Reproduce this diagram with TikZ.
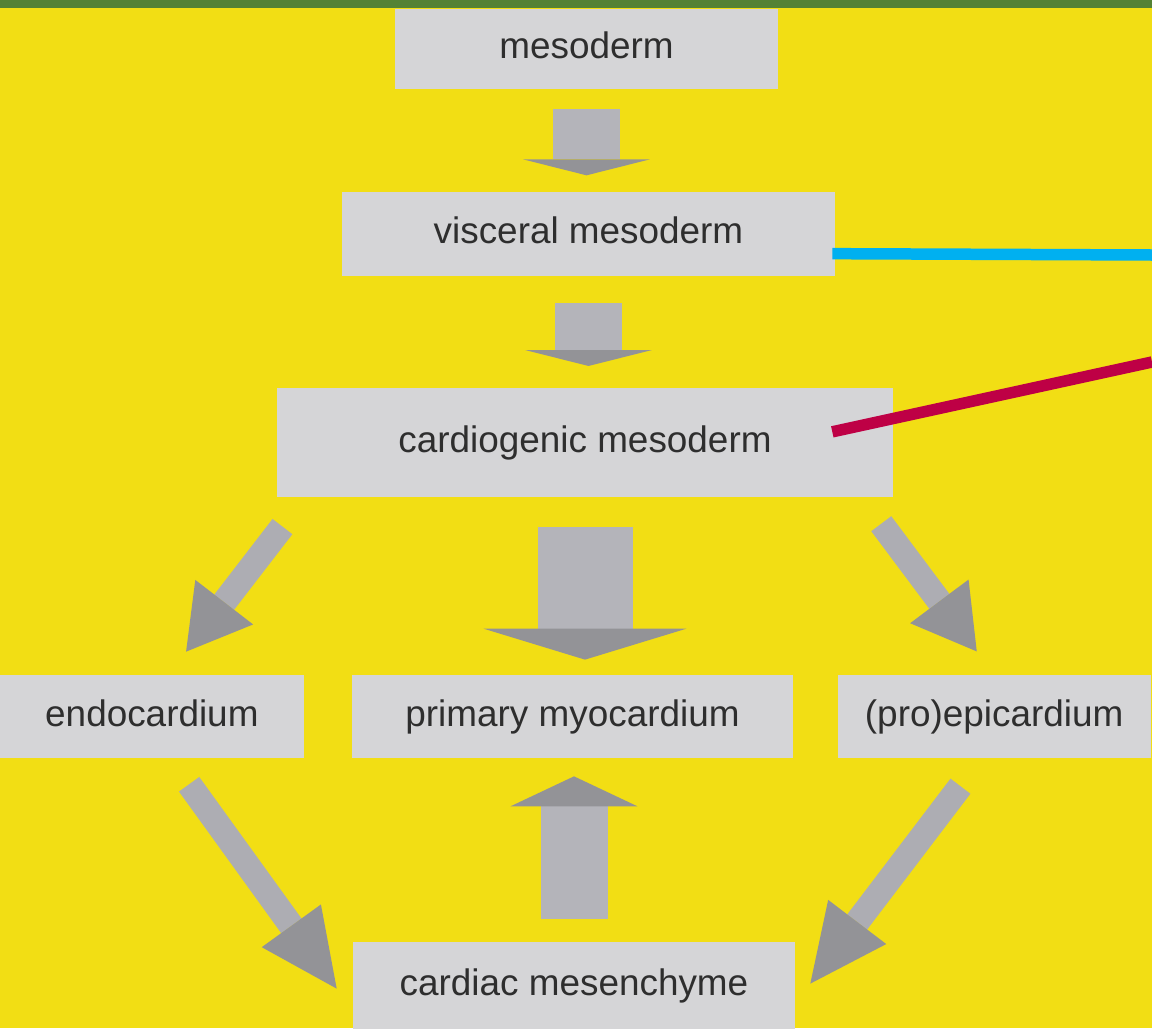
\documentclass[tikz,border=0pt]{standalone}
\usepackage{fontspec}
\setmainfont{Liberation Sans}
\usetikzlibrary{arrows.meta,positioning,calc}
\definecolor{bgyellow}{HTML}{F2DE14}
\definecolor{bargreen}{HTML}{548235}
\definecolor{boxgray}{HTML}{D5D5D7}
\definecolor{arrlight}{HTML}{B4B4BA}
\definecolor{arrdark}{HTML}{939397}
\definecolor{txtgray}{HTML}{2E2E2E}
\definecolor{linkcyan}{HTML}{00B0F0}
\definecolor{linkred}{HTML}{BE0045}

\begin{document}
\begin{tikzpicture}[x=0.02cm, y=-0.02cm, node distance=2cm,
      every node/.style={font=\fontsize{21}{25}\selectfont, text=txtgray},
      cell/.style={fill=boxgray, inner sep=0pt, minimum height=1.68cm, text height=15pt, text depth=4pt},
      fatarrow/.style={arrlight, line width=1.34cm, -{Triangle[width=2.54cm,length=#1,line width=0pt,fill=arrdark]}},
      fatarrow/.default=0.32cm,
      bigarrow/.style={arrlight, line width=1.9cm, -{Triangle[width=4.06cm,length=0.62cm,line width=0pt,fill=arrdark]}},
      slimarrow/.style={arrlight!80!arrdark, line width=0.5cm, -{Triangle[width=1.46cm,length=#1,line width=0pt,fill=arrdark]}},
      link/.style={line width=0.23cm}]
    \useasboundingbox[fill=bgyellow] (0,0) rectangle (1152,1028);

    \node[cell, minimum width=7.66cm, minimum height=1.6cm] (meso) at (586.5,49) {mesoderm};
    \node[cell, minimum width=9.86cm, below=2.04cm of meso, xshift=0.04cm] (visc) {visceral mesoderm};
    \node[cell, minimum width=12.32cm, minimum height=2.18cm, below=2.24cm of visc, xshift=-0.07cm] (cardio) {cardiogenic mesoderm};
    \node[cell, minimum width=8.82cm, minimum height=1.66cm, below=3.54cm of cardio, xshift=-0.25cm] (prim) {primary myocardium};
    \node[cell, minimum width=6.1cm, minimum height=1.66cm, left=0.94cm of prim] (endo) {endocardium};
    \node[cell, minimum width=6.26cm, minimum height=1.66cm, right=0.88cm of prim] (epi) {(pro)epicardium};
    \node[cell, minimum width=8.84cm, minimum height=1.76cm, below=3.66cm of prim, xshift=0.03cm] (mes) {cardiac mesenchyme};

    % straight down the middle
    \draw[fatarrow, shorten <=0.4cm, shorten >=0.32cm] (meso.south) -- (meso.south |- visc.north);
    \draw[fatarrow, shorten <=0.54cm, shorten >=0.44cm] (visc.south) -- (visc.south |- cardio.north);
    \draw[bigarrow, shorten <=0.58cm, shorten >=0.3cm] (cardio.south) -- (cardio.south |- prim.north);
    \draw[fatarrow=0.6cm, shorten <=0.44cm, shorten >=0.36cm] (mes.north) -- (mes.north |- prim.south);

    % side branches
    \draw[slimarrow=1.25cm, shorten <=0.73cm, shorten >=0.58cm] ($(cardio.south west)+(28,0)$) -- ($(endo.north)+(16.5,0)$);
    \draw[slimarrow=1.25cm, shorten <=0.65cm, shorten >=0.58cm] ($(cardio.south east)+(-31.5,0)$) -- (epi.north);
    \draw[slimarrow=1.55cm, shorten <=0.64cm] ($(endo.south)+(18.5,0)$) -- ($(mes.west)+(-16,3)$);
    \draw[slimarrow=1.55cm, shorten <=0.7cm] ($(epi.south)+(-12.5,0)$) -- ($(mes.east)+(15,-2)$);

    \coordinate (cyanend) at (1152,255);
    \coordinate (redend) at (1152,362);
    \draw[link, linkcyan] ($(visc.east)+(-3,20)$) -- (cyanend);
    \draw[link, linkred] ($(cardio.east)+(-61,-11)$) -- (redend);

    \fill[bargreen] (0,0) rectangle (1152,8);
  \end{tikzpicture}
\end{document}
